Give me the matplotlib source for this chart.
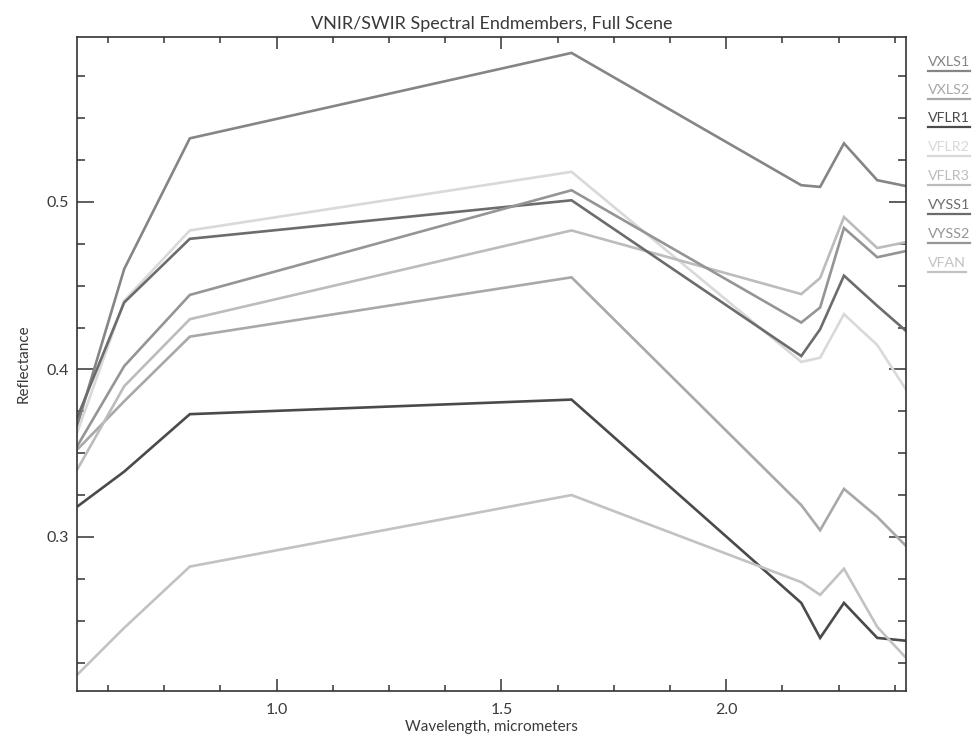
import matplotlib
matplotlib.use("Agg")
import matplotlib.pyplot as plt
from matplotlib.ticker import MultipleLocator, FormatStrFormatter
from matplotlib.lines import Line2D

plt.rcParams['font.family'] = ['Lato', 'DejaVu Sans']

wavelength = [0.556, 0.661, 0.807, 1.656, 2.167, 2.209, 2.262, 2.336, 2.400]

names = ["VXLS1", "VXLS2", "VFLR1", "VFLR2", "VFLR3", "VYSS1", "VYSS2", "VFAN"]
colors = ["#858585", "#a8a8a8", "#4a4a4a", "#d9d9d9", "#bcbcbc", "#6c6c6c", "#959595", "#c2c2c2"]

VXLS1 = [0.366, 0.460, 0.538, 0.589, 0.510, 0.509, 0.535, 0.513, 0.5095]
VXLS2 = [0.352, 0.381, 0.4196, 0.455, 0.319, 0.304, 0.3287, 0.312, 0.2946]
VFLR1 = [0.318, 0.339, 0.3733, 0.382, 0.2606, 0.2397, 0.2606, 0.2397, 0.238]
VFLR2 = [0.362, 0.441, 0.483, 0.518, 0.4045, 0.407, 0.433, 0.4146, 0.388]
VFLR3 = [0.340, 0.390, 0.430, 0.483, 0.445, 0.4546, 0.491, 0.4725, 0.476]
VYSS1 = [0.371, 0.440, 0.478, 0.501, 0.408, 0.424, 0.456, 0.438, 0.423]
VYSS2 = [0.354, 0.402, 0.4445, 0.507, 0.428, 0.437, 0.4845, 0.467, 0.4707]
VFAN = [0.2176, 0.2457, 0.2823, 0.325, 0.273, 0.2654, 0.281, 0.2463, 0.2278]

series = [VXLS1, VXLS2, VFLR1, VFLR2, VFLR3, VYSS1, VYSS2, VFAN]

W, H = 972, 739
fig = plt.figure(figsize=(W / 100, H / 100), dpi=100)
ax = fig.add_axes([77 / W, 1 - 691 / H, (906 - 77) / W, (691 - 37) / H])

for vals, c in zip(series, colors):
    ax.plot(wavelength, vals, color=c, lw=1.9, solid_joinstyle='miter')

ax.set_xlim(0.556, 2.400)
ax.set_ylim(0.208, 0.5985)

txtc = "#3a3a3a"
spc = "#333333"
for s in ax.spines.values():
    s.set_color(spc)
    s.set_linewidth(1.2)

ax.xaxis.set_major_locator(MultipleLocator(0.5))
ax.xaxis.set_minor_locator(MultipleLocator(0.125))
ax.yaxis.set_major_locator(MultipleLocator(0.1))
ax.yaxis.set_minor_locator(MultipleLocator(0.025))
ax.xaxis.set_major_formatter(FormatStrFormatter('%.1f'))
ax.yaxis.set_major_formatter(FormatStrFormatter('%.1f'))

ax.tick_params(axis='x', which='major', direction='in', length=8.6, width=1.1,
               color=spc, top=True, bottom=True, labelsize=11.5, labelcolor=txtc, pad=9)
ax.tick_params(axis='x', which='minor', direction='in', length=4.3, width=1.1,
               color=spc, top=True, bottom=True)
ax.tick_params(axis='y', which='major', direction='in', length=12, width=1.1,
               color=spc, left=True, right=True, labelsize=11.5, labelcolor=txtc, pad=6)
ax.tick_params(axis='y', which='minor', direction='in', length=6, width=1.1,
               color=spc, left=True, right=True)

ax.set_title("VNIR/SWIR Spectral Endmembers, Full Scene", fontsize=13, color=txtc, pad=6)
ax.set_xlabel("Wavelength, micrometers", fontsize=11, color=txtc, labelpad=2)
ax.set_ylabel("Reflectance", fontsize=11, color=txtc, labelpad=11)

# legend on the right: coloured text with underline
fig.canvas.draw()
renderer = fig.canvas.get_renderer()
x0 = 928
y_base = [66, 94, 122, 151, 180, 209, 238, 267]
for name, c, yb in zip(names, colors, y_base):
    t = fig.text(x0 / W, 1 - yb / H, name, color=c, fontsize=10.3, ha='left', va='baseline')
    bb = t.get_window_extent(renderer=renderer)
    uy = 1 - (yb + 5) / H
    fig.add_artist(Line2D([bb.x0 / W, bb.x1 / W], [uy, uy], color=c, lw=1.6,
                          transform=fig.transFigure))

fig.savefig("out.png", dpi=100)
